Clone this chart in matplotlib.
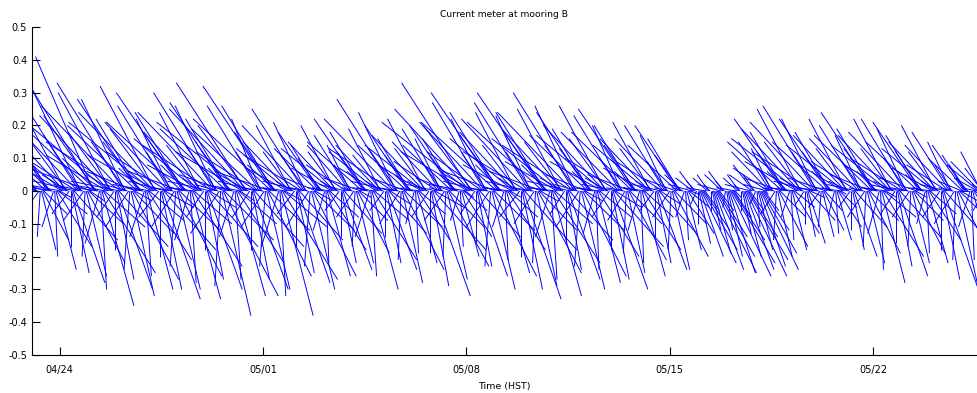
import numpy as np
import matplotlib
matplotlib.use('Agg')
import matplotlib.pyplot as plt
import matplotlib.dates as mdates
from matplotlib.collections import LineCollection


# hourly current components (m/s) from 04/23 00:00, one row per tidal cycle
v_north = [
    0.03, 0.14, 0.24, 0.30, 0.26, 0.14, 0.02, -0.06, -0.14, -0.18, -0.15, -0.07,
    0.07, 0.25, 0.36, 0.29, 0.20, 0.09, 0.01, -0.11, -0.20, -0.24, -0.17, -0.07, -0.02,
    0.02, 0.11, 0.20, 0.23, 0.30, 0.18, 0.05, -0.07, -0.17, -0.25, -0.28, -0.15,
    0.04, 0.17, 0.30, 0.38, 0.32, 0.17, 0.02, -0.09, -0.20, -0.26, -0.22, -0.10, -0.03,
    0.08, 0.29, 0.41, 0.33, 0.23, 0.10, 0.01, -0.16, -0.30, -0.35, -0.25, -0.11,
    0.02, 0.11, 0.20, 0.23, 0.30, 0.18, 0.05, -0.08, -0.18, -0.27, -0.30, -0.17,
    0.03, 0.15, 0.26, 0.33, 0.28, 0.15, 0.02, -0.11, -0.24, -0.32, -0.27, -0.13, -0.03,
    0.06, 0.20, 0.28, 0.22, 0.15, 0.07, 0.01, -0.14, -0.26, -0.30, -0.21, -0.09,
    0.02, 0.11, 0.21, 0.24, 0.32, 0.19, 0.05, -0.08, -0.20, -0.30, -0.33, -0.18, -0.05,
    0.03, 0.12, 0.21, 0.26, 0.22, 0.12, 0.01, -0.11, -0.23, -0.30, -0.26, -0.12,
    0.06, 0.21, 0.30, 0.24, 0.17, 0.08, 0.01, -0.15, -0.28, -0.33, -0.23, -0.10,
    0.01, 0.08, 0.16, 0.18, 0.24, 0.14, 0.04, -0.08, -0.18, -0.27, -0.30, -0.17, -0.05,
    0.03, 0.14, 0.24, 0.30, 0.26, 0.14, 0.02, -0.13, -0.29, -0.38, -0.32, -0.15,
    0.05, 0.19, 0.27, 0.22, 0.15, 0.07, 0.01, -0.14, -0.27, -0.32, -0.22, -0.10, -0.03,
    0.02, 0.12, 0.21, 0.25, 0.33, 0.20, 0.05, -0.08, -0.18, -0.27, -0.30, -0.17,
    0.03, 0.12, 0.19, 0.26, 0.22, 0.12, 0.01, -0.11, -0.23, -0.30, -0.26, -0.12,
    0.06, 0.22, 0.32, 0.26, 0.18, 0.08, 0.01, -0.17, -0.32, -0.38, -0.27, -0.11, -0.03,
    0.01, 0.07, 0.13, 0.15, 0.20, 0.12, 0.03, -0.07, -0.17, -0.25, -0.28, -0.15,
    0.03, 0.11, 0.20, 0.25, 0.21, 0.11, 0.01, -0.11, -0.23, -0.30, -0.26, -0.12, -0.03,
    0.04, 0.13, 0.18, 0.14, 0.10, 0.05, 0.01, -0.12, -0.22, -0.26, -0.18, -0.08,
    0.01, 0.07, 0.13, 0.15, 0.20, 0.12, 0.03, -0.06, -0.14, -0.22, -0.24, -0.13,
    0.02, 0.08, 0.14, 0.17, 0.14, 0.08, 0.01, -0.08, -0.17, -0.22, -0.19, -0.09, -0.02,
    0.04, 0.15, 0.22, 0.18, 0.12, 0.06, 0.01, -0.14, -0.26, -0.30, -0.21, -0.09,
    0.01, 0.07, 0.12, 0.14, 0.19, 0.11, 0.03, -0.06, -0.14, -0.22, -0.24, -0.13, -0.04,
    0.03, 0.13, 0.22, 0.28, 0.24, 0.13, 0.01, -0.10, -0.21, -0.28, -0.24, -0.11,
    0.04, 0.14, 0.20, 0.16, 0.11, 0.05, 0.01, -0.10, -0.19, -0.22, -0.15, -0.07,
    0.01, 0.08, 0.14, 0.17, 0.22, 0.13, 0.03, -0.08, -0.19, -0.29, -0.32, -0.18, -0.05,
    0.02, 0.09, 0.15, 0.19, 0.16, 0.09, 0.01, -0.09, -0.20, -0.27, -0.23, -0.11,
    0.04, 0.14, 0.20, 0.16, 0.11, 0.05, 0.01, -0.09, -0.17, -0.20, -0.14, -0.06, -0.02,
    0.02, 0.12, 0.21, 0.25, 0.33, 0.20, 0.05, -0.07, -0.16, -0.23, -0.26, -0.14,
    0.03, 0.12, 0.21, 0.27, 0.22, 0.12, 0.01, -0.11, -0.23, -0.30, -0.26, -0.12,
    0.06, 0.21, 0.30, 0.24, 0.17, 0.08, 0.01, -0.11, -0.21, -0.25, -0.18, -0.08, -0.02,
    0.01, 0.08, 0.16, 0.18, 0.24, 0.14, 0.04, -0.08, -0.20, -0.30, -0.33, -0.18,
    0.03, 0.12, 0.22, 0.27, 0.23, 0.12, 0.01, -0.10, -0.22, -0.29, -0.25, -0.12, -0.03,
    0.06, 0.21, 0.30, 0.24, 0.17, 0.08, 0.01, -0.14, -0.27, -0.32, -0.22, -0.10,
    0.01, 0.09, 0.16, 0.19, 0.25, 0.15, 0.04, -0.07, -0.16, -0.24, -0.27, -0.15,
    0.03, 0.14, 0.24, 0.30, 0.26, 0.14, 0.02, -0.11, -0.23, -0.30, -0.26, -0.12, -0.03,
    0.05, 0.17, 0.24, 0.19, 0.13, 0.06, 0.01, -0.13, -0.24, -0.28, -0.20, -0.08,
    0.01, 0.09, 0.17, 0.20, 0.26, 0.16, 0.04, -0.08, -0.18, -0.27, -0.30, -0.17, -0.05,
    0.02, 0.10, 0.18, 0.23, 0.20, 0.10, 0.01, -0.09, -0.19, -0.25, -0.21, -0.10,
    0.05, 0.18, 0.25, 0.20, 0.14, 0.06, 0.01, -0.12, -0.22, -0.26, -0.18, -0.08,
    0.01, 0.07, 0.14, 0.16, 0.21, 0.13, 0.03, -0.06, -0.14, -0.22, -0.24, -0.13, -0.04,
    0.02, 0.09, 0.16, 0.20, 0.17, 0.09, 0.01, -0.08, -0.18, -0.24, -0.20, -0.10,
    0.04, 0.14, 0.20, 0.16, 0.11, 0.05, 0.01, -0.08, -0.15, -0.18, -0.13, -0.05, -0.01,
    0.02, 0.04, 0.06, 0.03, -0.04, -0.10, -0.16, -0.20, -0.22, -0.18, -0.12, -0.06,
    0.01, 0.04, 0.05, 0.02, -0.06, -0.12, -0.19, -0.24, -0.25, -0.20, -0.14, -0.06,
    0.02, 0.05, 0.06, 0.03, -0.05, -0.12, -0.20, -0.25, -0.26, -0.22, -0.15, -0.08, -0.02,
    0.01, 0.04, 0.05, 0.02, -0.06, -0.13, -0.20, -0.24, -0.26, -0.21, -0.14, -0.06,
    0.02, 0.05, 0.08, 0.05, -0.04, -0.11, -0.18, -0.23, -0.24, -0.19, -0.12, -0.06, -0.01,
    0.02, 0.07, 0.12, 0.15, 0.13, 0.07, 0.01, -0.07, -0.15, -0.20, -0.17, -0.08,
    0.04, 0.15, 0.22, 0.18, 0.12, 0.06, 0.01, -0.08, -0.15, -0.18, -0.13, -0.05,
    0.01, 0.09, 0.16, 0.19, 0.25, 0.15, 0.04, -0.04, -0.10, -0.14, -0.16, -0.09, -0.02,
    0.03, 0.12, 0.21, 0.26, 0.22, 0.12, 0.01, -0.05, -0.11, -0.14, -0.12, -0.06,
    0.04, 0.15, 0.22, 0.18, 0.12, 0.06, 0.01, -0.07, -0.13, -0.15, -0.11, -0.05, -0.01,
    0.01, 0.08, 0.14, 0.17, 0.22, 0.13, 0.03, -0.05, -0.12, -0.18, -0.20, -0.11,
    0.02, 0.09, 0.16, 0.20, 0.17, 0.09, 0.01, -0.08, -0.17, -0.22, -0.19, -0.09,
    0.05, 0.17, 0.24, 0.19, 0.13, 0.06, 0.01, -0.13, -0.24, -0.28, -0.20, -0.08, -0.02,
    0.01, 0.08, 0.14, 0.17, 0.22, 0.13, 0.03, -0.07, -0.16, -0.23, -0.26, -0.14,
    0.02, 0.10, 0.18, 0.22, 0.19, 0.10, 0.01, -0.08, -0.17, -0.22, -0.19, -0.09, -0.02,
    0.04, 0.15, 0.21, 0.17, 0.12, 0.05, 0.01, -0.10, -0.19, -0.22, -0.15, -0.07,
    0.01, 0.07, 0.13, 0.15, 0.20, 0.12, 0.03, -0.08, -0.18, -0.27, -0.30, -0.17,
    0.02, 0.08, 0.14, 0.18, 0.15, 0.08, 0.01, -0.10, -0.21, -0.28, -0.24, -0.11, -0.03,
    0.03, 0.10, 0.14, 0.11, 0.08, 0.04, 0.00, -0.11, -0.21, -0.25, -0.18, -0.08,
    0.01, 0.04, 0.08, 0.09, 0.12, 0.07, 0.02, -0.06, -0.13, -0.20, -0.22, -0.12, -0.03,
]
u_east = [
    -0.15, -0.24, -0.26, -0.21, -0.14, -0.11, -0.08, -0.05, -0.01, 0.05, 0.09, 0.08,
    -0.22, -0.31, -0.27, -0.20, -0.16, -0.11, -0.07, -0.04, 0.01, 0.07, 0.12, 0.10, 0.04,
    -0.12, -0.21, -0.27, -0.24, -0.18, -0.15, -0.09, -0.06, 0.00, 0.06, 0.11, 0.15,
    -0.19, -0.30, -0.32, -0.27, -0.17, -0.13, -0.10, -0.07, -0.01, 0.07, 0.13, 0.12, 0.05,
    -0.25, -0.35, -0.20, -0.23, -0.18, -0.12, -0.08, -0.05, 0.02, 0.11, 0.18, 0.14,
    -0.12, -0.21, -0.27, -0.24, -0.18, -0.15, -0.09, -0.06, 0.00, 0.06, 0.12, 0.17,
    -0.17, -0.26, -0.28, -0.23, -0.15, -0.12, -0.08, -0.08, -0.02, 0.08, 0.16, 0.14, 0.06,
    -0.17, -0.24, -0.21, -0.15, -0.13, -0.08, -0.06, -0.05, 0.02, 0.09, 0.15, 0.12,
    -0.13, -0.22, -0.29, -0.26, -0.19, -0.16, -0.10, -0.07, 0.00, 0.07, 0.13, 0.18, 0.10,
    -0.13, -0.21, -0.22, -0.18, -0.12, -0.09, -0.07, -0.08, -0.02, 0.08, 0.15, 0.14,
    -0.18, -0.26, -0.23, -0.17, -0.14, -0.09, -0.06, -0.05, 0.02, 0.10, 0.17, 0.13,
    -0.10, -0.17, -0.22, -0.19, -0.14, -0.12, -0.07, -0.06, 0.00, 0.06, 0.12, 0.17, 0.09,
    -0.15, -0.24, -0.26, -0.21, -0.14, -0.11, -0.08, -0.10, -0.02, 0.10, 0.19, 0.17,
    -0.16, -0.23, -0.20, -0.15, -0.12, -0.08, -0.05, -0.05, 0.02, 0.10, 0.16, 0.13, 0.05,
    -0.13, -0.23, -0.30, -0.26, -0.24, -0.17, -0.10, -0.06, 0.00, 0.06, 0.12, 0.17,
    -0.13, -0.21, -0.23, -0.18, -0.10, -0.09, -0.07, -0.08, -0.02, 0.08, 0.15, 0.14,
    -0.19, -0.27, -0.24, -0.18, -0.14, -0.10, -0.06, -0.06, 0.02, 0.11, 0.19, 0.15, 0.06,
    -0.08, -0.14, -0.18, -0.16, -0.12, -0.10, -0.06, -0.06, 0.00, 0.06, 0.11, 0.15,
    -0.13, -0.20, -0.21, -0.18, -0.11, -0.09, -0.06, -0.08, -0.02, 0.08, 0.15, 0.14, 0.06,
    -0.11, -0.15, -0.14, -0.10, -0.08, -0.05, -0.04, -0.04, 0.01, 0.08, 0.13, 0.10,
    -0.08, -0.14, -0.18, -0.16, -0.12, -0.10, -0.06, -0.05, 0.00, 0.05, 0.10, 0.13,
    -0.09, -0.14, -0.14, -0.12, -0.08, -0.06, -0.04, -0.06, -0.01, 0.06, 0.11, 0.10, 0.04,
    -0.13, -0.19, -0.17, -0.12, -0.10, -0.07, -0.04, -0.05, 0.02, 0.09, 0.15, 0.12,
    -0.08, -0.13, -0.17, -0.15, -0.11, -0.10, -0.06, -0.05, 0.00, 0.05, 0.10, 0.13, 0.07,
    -0.14, -0.22, -0.24, -0.20, -0.13, -0.10, -0.07, -0.07, -0.01, 0.07, 0.14, 0.13,
    -0.12, -0.17, -0.15, -0.11, -0.09, -0.06, -0.04, -0.03, 0.01, 0.07, 0.11, 0.09,
    -0.09, -0.15, -0.20, -0.18, -0.13, -0.11, -0.07, -0.06, 0.00, 0.06, 0.13, 0.18, 0.10,
    -0.10, -0.15, -0.16, -0.13, -0.09, -0.07, -0.05, -0.07, -0.01, 0.07, 0.14, 0.12,
    -0.12, -0.17, -0.15, -0.11, -0.09, -0.06, -0.04, -0.03, 0.01, 0.06, 0.10, 0.08, 0.03,
    -0.13, -0.23, -0.30, -0.26, -0.24, -0.17, -0.10, -0.05, 0.00, 0.05, 0.10, 0.14,
    -0.13, -0.19, -0.22, -0.18, -0.12, -0.09, -0.07, -0.08, -0.02, 0.08, 0.15, 0.14,
    -0.18, -0.26, -0.23, -0.17, -0.14, -0.09, -0.06, -0.04, 0.01, 0.08, 0.13, 0.10, 0.04,
    -0.10, -0.17, -0.22, -0.19, -0.14, -0.12, -0.07, -0.07, 0.00, 0.07, 0.13, 0.18,
    -0.14, -0.22, -0.23, -0.19, -0.12, -0.09, -0.07, -0.07, -0.01, 0.07, 0.15, 0.13, 0.06,
    -0.18, -0.26, -0.23, -0.17, -0.14, -0.09, -0.06, -0.05, 0.02, 0.10, 0.16, 0.13,
    -0.10, -0.18, -0.23, -0.20, -0.15, -0.13, -0.08, -0.05, 0.00, 0.05, 0.11, 0.15,
    -0.15, -0.24, -0.26, -0.21, -0.14, -0.11, -0.08, -0.08, -0.02, 0.08, 0.15, 0.14, 0.06,
    -0.14, -0.20, -0.18, -0.13, -0.11, -0.07, -0.05, -0.04, 0.01, 0.08, 0.14, 0.11,
    -0.10, -0.18, -0.23, -0.21, -0.16, -0.13, -0.08, -0.06, 0.00, 0.06, 0.12, 0.17, 0.09,
    -0.12, -0.18, -0.20, -0.16, -0.10, -0.08, -0.06, -0.06, -0.01, 0.06, 0.13, 0.11,
    -0.15, -0.21, -0.19, -0.14, -0.11, -0.08, -0.05, -0.04, 0.01, 0.08, 0.13, 0.10,
    -0.08, -0.15, -0.19, -0.17, -0.13, -0.11, -0.06, -0.05, 0.00, 0.05, 0.10, 0.13, 0.07,
    -0.10, -0.16, -0.17, -0.14, -0.09, -0.07, -0.05, -0.06, -0.01, 0.06, 0.12, 0.11,
    -0.12, -0.17, -0.15, -0.11, -0.09, -0.06, -0.04, -0.03, 0.01, 0.05, 0.09, 0.07, 0.03,
    -0.08, -0.06, -0.05, -0.03, -0.02, 0.00, 0.04, 0.08, 0.12, 0.12, 0.09, 0.05,
    -0.07, -0.05, -0.04, -0.02, 0.00, 0.03, 0.06, 0.10, 0.14, 0.13, 0.10, 0.05,
    -0.08, -0.06, -0.05, -0.03, -0.01, 0.02, 0.05, 0.09, 0.14, 0.15, 0.11, 0.06, 0.02,
    -0.07, -0.05, -0.04, -0.02, 0.00, 0.03, 0.06, 0.10, 0.14, 0.14, 0.10, 0.05,
    -0.09, -0.08, -0.07, -0.04, -0.02, 0.01, 0.05, 0.09, 0.13, 0.12, 0.09, 0.05, 0.01,
    -0.08, -0.12, -0.13, -0.11, -0.07, -0.05, -0.04, -0.05, -0.01, 0.05, 0.10, 0.09,
    -0.13, -0.19, -0.17, -0.12, -0.10, -0.07, -0.04, -0.03, 0.01, 0.05, 0.09, 0.07,
    -0.10, -0.18, -0.23, -0.20, -0.15, -0.13, -0.08, -0.03, 0.00, 0.03, 0.06, 0.09, 0.05,
    -0.13, -0.21, -0.22, -0.18, -0.12, -0.09, -0.07, -0.04, -0.01, 0.04, 0.07, 0.06,
    -0.13, -0.19, -0.17, -0.12, -0.10, -0.07, -0.04, -0.02, 0.01, 0.05, 0.08, 0.06, 0.02,
    -0.09, -0.15, -0.20, -0.18, -0.13, -0.11, -0.07, -0.04, 0.00, 0.04, 0.08, 0.11,
    -0.10, -0.16, -0.17, -0.14, -0.09, -0.07, -0.05, -0.06, -0.01, 0.06, 0.11, 0.10,
    -0.14, -0.20, -0.18, -0.13, -0.11, -0.07, -0.05, -0.04, 0.01, 0.08, 0.14, 0.11, 0.04,
    -0.09, -0.15, -0.20, -0.18, -0.13, -0.11, -0.07, -0.05, 0.00, 0.05, 0.10, 0.14,
    -0.11, -0.18, -0.19, -0.15, -0.10, -0.08, -0.06, -0.06, -0.01, 0.06, 0.11, 0.10, 0.04,
    -0.13, -0.18, -0.16, -0.12, -0.09, -0.06, -0.04, -0.03, 0.01, 0.07, 0.11, 0.09,
    -0.08, -0.14, -0.18, -0.16, -0.12, -0.10, -0.06, -0.06, 0.00, 0.06, 0.12, 0.17,
    -0.09, -0.14, -0.15, -0.13, -0.08, -0.06, -0.05, -0.07, -0.01, 0.07, 0.14, 0.13, 0.06,
    -0.08, -0.12, -0.11, -0.08, -0.06, -0.04, -0.03, -0.04, 0.01, 0.08, 0.13, 0.10,
    -0.05, -0.08, -0.11, -0.10, -0.07, -0.06, -0.04, -0.04, 0.00, 0.04, 0.09, 0.12, 0.07,
]

t0 = np.datetime64('2009-04-23T00:00')
t_axis_start = np.datetime64('2009-04-23T01:12')
days_per_speed = 10.0      # horizontal stick length: days per m/s
tick_dates = ['2009-04-24', '2009-05-01', '2009-05-08', '2009-05-15', '2009-05-22']

u = np.array(u_east)
v = np.array(v_north)
assert len(u) == len(v)
times = t0 + np.arange(len(u)) * np.timedelta64(1, 'h')
tnum = mdates.date2num(times)

# each stick: from (t, 0) to (t + u*scale, v)
segs = [[(t, 0.0), (t + uu * days_per_speed, vv)] for t, uu, vv in zip(tnum, u, v)]

fig = plt.figure(figsize=(9.77, 3.93), dpi=100)
ax = fig.add_axes([32 / 977, 38 / 393, 945 / 977, 328 / 393])
ax.add_collection(LineCollection(segs, colors='#0000ff', linewidths=0.7))

x0 = mdates.date2num(t_axis_start)
ax.set_xlim(x0, x0 + 945 / 29.06)
ax.set_ylim(-0.5, 0.5)

yt = np.round(np.arange(-0.5, 0.51, 0.1), 1) + 0.0
ax.set_yticks(yt)
ax.set_yticklabels(['%g' % (y if abs(y) > 1e-9 else 0) for y in yt])
ax.set_xticks(mdates.date2num(np.array(tick_dates, dtype='datetime64[D]')))
ax.xaxis.set_major_formatter(mdates.DateFormatter('%m/%d'))

for s in ['top', 'right']:
    ax.spines[s].set_visible(False)
for s in ['left', 'bottom']:
    ax.spines[s].set_linewidth(0.8)
ax.tick_params(direction='in', length=6, width=0.8, labelsize=7, colors='black')
ax.tick_params(axis='x', pad=7)

ax.set_title('Current meter at mooring B', fontsize=6.6, pad=7)
ax.set_xlabel('Time (HST)', fontsize=6.8, labelpad=5)

fig.savefig('out.png', dpi=100)
